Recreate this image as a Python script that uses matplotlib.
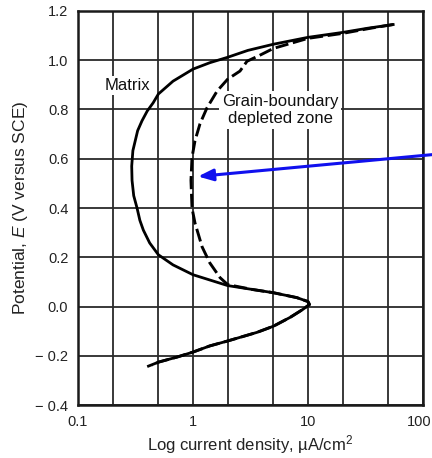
import matplotlib.pyplot as plt
import matplotlib.transforms as mtransforms

plt.rcParams['font.family'] = ['Liberation Sans', 'DejaVu Sans']
plt.rcParams['mathtext.fontset'] = 'custom'
plt.rcParams['mathtext.it'] = 'Liberation Sans:italic'
plt.rcParams['mathtext.rm'] = 'Liberation Sans'

# polarization curves: potential (V vs SCE), current density (uA/cm2)
matrix_E = [1.145, 1.13, 1.113, 1.093, 1.065, 1.04, 1.012, 0.99, 0.964, 0.915, 0.863, 0.827,
            0.794, 0.754, 0.714, 0.633, 0.57, 0.512, 0.45, 0.40, 0.35, 0.31, 0.258, 0.21, 0.169, 0.129,
            0.085, 0.069, 0.056, 0.036, 0.02, 0.008, -0.012, -0.044, -0.08, -0.105, -0.14, -0.16,
            -0.185, -0.205, -0.226, -0.242]
matrix_i = [55, 33, 20, 10, 5, 3.0, 2.0, 1.4, 1.0, 0.67, 0.5, 0.45,
            0.40, 0.36, 0.33, 0.30, 0.293, 0.295, 0.305, 0.326, 0.345, 0.37, 0.42, 0.5, 0.67, 1.0,
            2.0, 3.3, 5.0, 8.0, 10.0, 10.3, 9.0, 7.0, 5.0, 3.6, 2.0, 1.4,
            1.0, 0.73, 0.5, 0.41]

gb_E = [1.145, 1.13, 1.109, 1.089, 1.048, 1.02, 0.996, 0.956, 0.923, 0.875, 0.806,
        0.742, 0.673, 0.605, 0.512, 0.40, 0.339, 0.242, 0.177, 0.117, 0.089,
        0.069, 0.056, 0.036, 0.02, 0.008, -0.012, -0.044, -0.08, -0.105, -0.14, -0.16,
        -0.185, -0.205, -0.226, -0.24]
gb_i = [55, 35, 20, 10, 5.0, 3.8, 2.95, 2.56, 2.0, 1.62, 1.32,
        1.15, 1.04, 0.98, 0.96, 0.98, 1.04, 1.2, 1.4, 1.72, 2.0,
        3.3, 5.0, 8.0, 10.0, 10.3, 9.0, 7.0, 5.0, 3.6, 2.0, 1.4,
        1.0, 0.73, 0.5, 0.44]

x_major = [0.1, 1, 10, 100]
x_major_labels = ['0.1', '1', '10', '100']
x_minor = [0.2, 0.5, 2, 5, 20, 50]
y_ticks = [-0.4, -0.2, 0.0, 0.2, 0.4, 0.6, 0.8, 1.0, 1.2]
y_labels = ['\u2212 0.4', '\u2212 0.2', '0.0', '0.2', '0.4', '0.6', '0.8', '1.0', '1.2']

fig = plt.figure(figsize=(4.32, 4.58), dpi=100)
ax = fig.add_axes([0.1806, 0.1157, 0.7986, 0.8603])

ax.set_xscale('log')
ax.set_xlim(0.1, 100)
ax.set_ylim(-0.4, 1.2)

ax.set_xticks(x_major)
ax.set_xticklabels(x_major_labels)
ax.set_xticks(x_minor, minor=True)
ax.set_xticklabels([], minor=True)
ax.set_yticks(y_ticks)
ax.set_yticklabels(y_labels)
ax.tick_params(which='both', length=0, labelsize=10.5, labelcolor='#222222')
ax.tick_params(axis='x', pad=7)
ax.tick_params(axis='y', pad=7)
ax.grid(True, which='both', color='#2a2a2a', linewidth=1.3)
ax.set_axisbelow(True)
for s in ax.spines.values():
    s.set_linewidth(1.8)
    s.set_color('#1a1a1a')
# the last x label runs up to the right edge of the figure
last = ax.get_xticklabels()[-1]
last.set_horizontalalignment('right')
last.set_transform(last.get_transform() + mtransforms.ScaledTranslation(0.08, 0, fig.dpi_scale_trans))

ax.plot(matrix_i, matrix_E, color='black', linewidth=2.0, solid_joinstyle='round')
ax.plot(gb_i, gb_E, color='black', linewidth=2.1, dashes=(4.5, 1.6))

ax.text(0.267, 0.899, 'Matrix', ha='center', va='center', fontsize=12, color='#111111',
        bbox=dict(facecolor='white', edgecolor='none', pad=1.5))
ax.text(5.7, 0.798, 'Grain-boundary\ndepleted zone', ha='center', va='center', fontsize=12,
        color='#111111', linespacing=1.15,
        bbox=dict(facecolor='white', edgecolor='none', pad=2.0))

# blue pointer into the grain-boundary curve
ax.annotate('', xy=(1.105, 0.528), xytext=(122, 0.617), xycoords='data', textcoords='data',
            annotation_clip=False,
            arrowprops=dict(arrowstyle='-|>,head_length=0.9,head_width=0.35', color='#1010ee',
                            linewidth=2.2, shrinkA=0, shrinkB=0))

ax.set_xlabel('Log current density, \u00b5A/cm$^2$', fontsize=12, color='#222222', labelpad=3)
ax.set_ylabel('Potential, $\\mathit{E}$ (V versus SCE)', fontsize=12.5, color='#222222', labelpad=4)

fig.savefig('out.png', dpi=100)
